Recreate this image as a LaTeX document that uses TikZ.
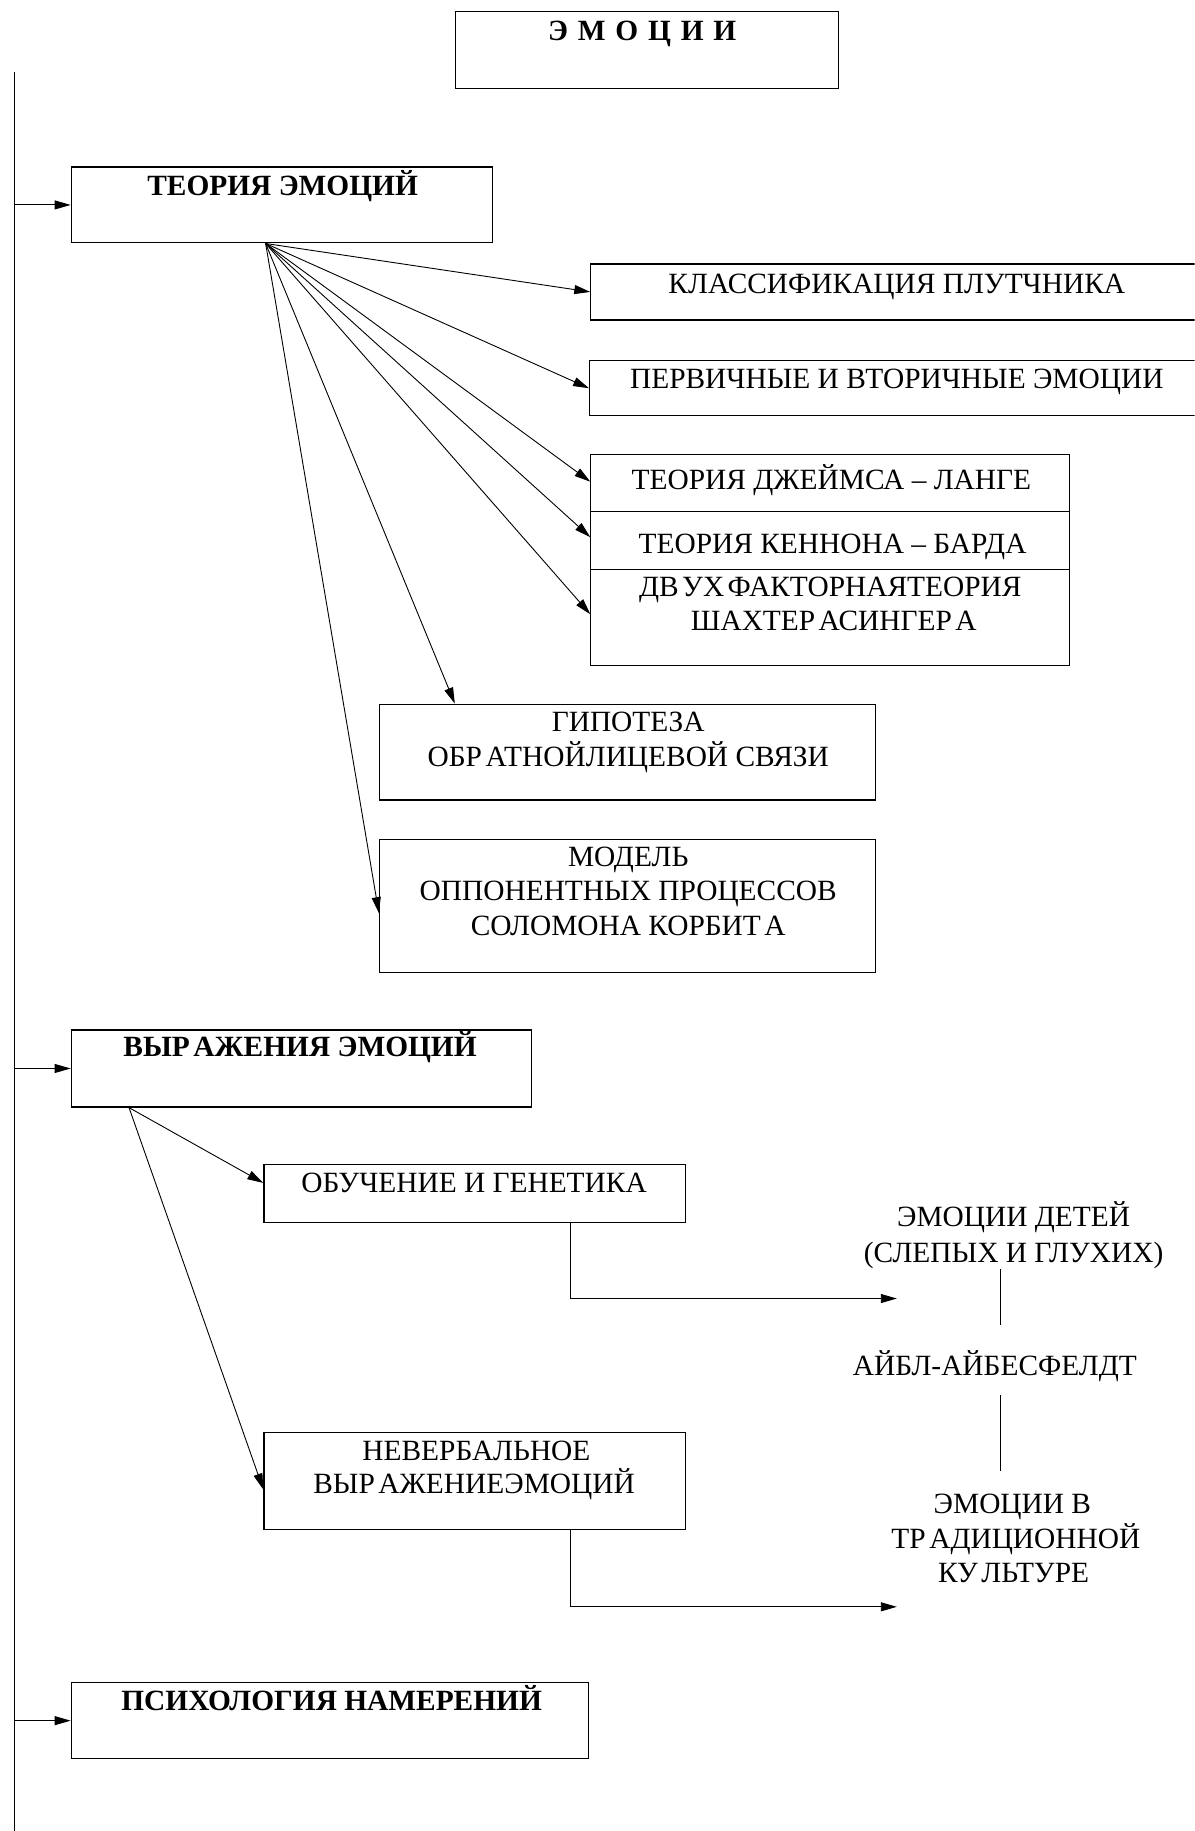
\documentclass[tikz,border=0pt]{standalone}
\usepackage{fontspec}
\setmainfont{Liberation Serif}
\usetikzlibrary{arrows.meta,calc,fit}
\newcommand{\gapk}{\kern0.12em}
\begin{document}
\begin{tikzpicture}[x=1.1681pt,y=-1.1681pt,
  box/.style={draw,line width=1.2pt,inner sep=0pt},
  lbl/.style={font=\fontsize{29.4}{34}\selectfont,inner sep=0pt,anchor=base},
  blbl/.style={lbl,font=\fontsize{29.4}{34}\selectfont\bfseries},
  arr/.style={line width=0.9pt,-{Triangle[length=16pt,width=9pt]}},
  ln/.style={line width=0.9pt}]
\useasboundingbox (0,0) rectangle (1023,1568);
\clip (0,0) rectangle (1023,1568);
\fill[white] (0,0) rectangle (1023,1568);

% boxes
\node[box,fit={(390,10)(718,76)}] (emo) {};
\node[box,fit={(61,143)(422,208)}] (teor) {};
\node[box,fit={(506,226)(1035,274)}] (klass) {};
\node[box,fit={(505,309)(1035,356)}] (perv) {};
\node[box,fit={(506,389)(916,438)}] (james) {};
\node[box,fit={(506,438)(916,488)}] (kennon) {};
\node[box,fit={(506,488)(916,570)}] (shachter) {};
\node[box,fit={(325,603)(750,685)}] (gip) {};
\node[box,fit={(325,719)(750,833)}] (model) {};
\node[box,fit={(61,882)(455,948)}] (vyr) {};
\node[box,fit={(226,997)(587,1047)}] (obuch) {};
\node[box,fit={(226,1227)(587,1310)}] (neverb) {};
\node[box,fit={(61,1441)(504,1506)}] (psych) {};

% texts
\node[blbl] (emoT) at (550,35) {Э\,\,М\,\,О\,\,Ц\,\,И\,\,И};
\node[blbl] (teorT) at (242,167) {ТЕОРИЯ ЭМОЦИЙ};
\node[lbl] (klassT) at (768,251) {КЛАССИФИКАЦИЯ ПЛУТЧНИКА};
\node[lbl] (pervT) at (768,333) {ПЕРВИЧНЫЕ И ВТОРИЧНЫЕ ЭМОЦИИ};
\node[lbl] (jamesT) at (712,419) {ТЕОРИЯ ДЖЕЙМСА – ЛАНГЕ};
\node[lbl] (kennonT) at (713,474) {ТЕОРИЯ КЕННОНА – БАРДА};
\node[lbl] (shachT1) at (711,511) {ДВ\gapk УХ\gapk ФАКТОРНАЯТЕОРИЯ};
\node[lbl] (shachT2) at (714,540) {ШАХТЕР\gapk АСИНГЕР\gapk А};
\node[lbl] (gipT1) at (538,626) {ГИПОТЕЗА};
\node[lbl] (gipT2) at (538,656) {ОБР\gapk АТНОЙЛИЦЕВОЙ СВЯЗИ};
\node[lbl] (modT1) at (538,742) {МОДЕЛЬ};
\node[lbl] (modT2) at (538,771) {ОППОНЕНТНЫХ ПРОЦЕССОВ};
\node[lbl] (modT3) at (538,801) {СОЛОМОНА КОРБИТ\gapk А};
\node[blbl] (vyrT) at (257,905) {ВЫР\gapk АЖЕНИЯ ЭМОЦИЙ};
\node[lbl] (obuchT) at (406,1021) {ОБУЧЕНИЕ И ГЕНЕТИКА};
\node[lbl] (nevT1) at (408,1251) {НЕВЕРБАЛЬНОЕ};
\node[lbl] (nevT2) at (406,1279) {ВЫР\gapk АЖЕНИЕЭМОЦИЙ};
\node[lbl] (detiT1) at (868,1050) {ЭМОЦИИ ДЕТЕЙ};
\node[lbl] (detiT2) at (868,1081) {(СЛЕПЫХ И ГЛУХИХ)};
\node[lbl] (aiblT) at (852,1178) {АЙБЛ-АЙБЕСФЕЛДТ};
\node[lbl] (kultT1) at (867,1296) {ЭМОЦИИ В};
\node[lbl] (kultT2) at (870,1326) {ТР\gapk АДИЦИОННОЙ};
\node[lbl] (kultT3) at (868,1355) {КУ\gapk ЛЬТУРЕ};
\node[blbl] (psychT) at (284,1465) {ПСИХОЛОГИЯ НАМЕРЕНИЙ};

% spine
\coordinate (sTop) at (12,62);
\coordinate (sBot) at (12,1568);
\draw[ln] (sTop) -- (sBot);
\draw[arr] (sTop |- teor.west) -- (teor.west);
\draw[arr] (sTop |- vyr.west) -- (vyr.west);
\draw[arr] (sTop |- psych.west) -- (psych.west);

% fan from theory box
\coordinate (tf) at ($(teor.south west)+(167,0)$);
\draw[arr] (tf) -- (klass.west);
\draw[arr] (tf) -- (perv.west);
\draw[arr] (tf) -- ($(james.west)+(0,-1)$);
\draw[arr] (tf) -- ($(kennon.west)+(0,-3)$);
\draw[arr] (tf) -- ($(shachter.west)+(0,-3)$);
\draw[arr] (tf) -- ($(gip.north west)+(65,0)$);
\draw[arr] (tf) -- ($(model.west)+(0,6)$);

% expression branch
\coordinate (vf) at ($(vyr.south west)+(50,0)$);
\draw[arr] (vf) -- ($(obuch.west)+(0,-9)$);
\draw[arr] (vf) -- ($(neverb.west)+(0,7)$);

\coordinate (e1) at ($(obuch.south west)+(263,0)$);
\coordinate (detiTip) at (768,1112);
\draw[arr] (e1) |- (detiTip);
\coordinate (e2) at ($(neverb.south west)+(263,0)$);
\coordinate (kultTip) at (768,1376);
\draw[arr] (e2) |- (kultTip);

% vertical links on the right
\coordinate (v1a) at (857,1087);
\coordinate (v1b) at (857,1135);
\coordinate (v2a) at (857,1195);
\coordinate (v2b) at (857,1260);
\draw[ln] (v1a) -- (v1b);
\draw[ln] (v2a) -- (v2b);
\end{tikzpicture}
\end{document}
